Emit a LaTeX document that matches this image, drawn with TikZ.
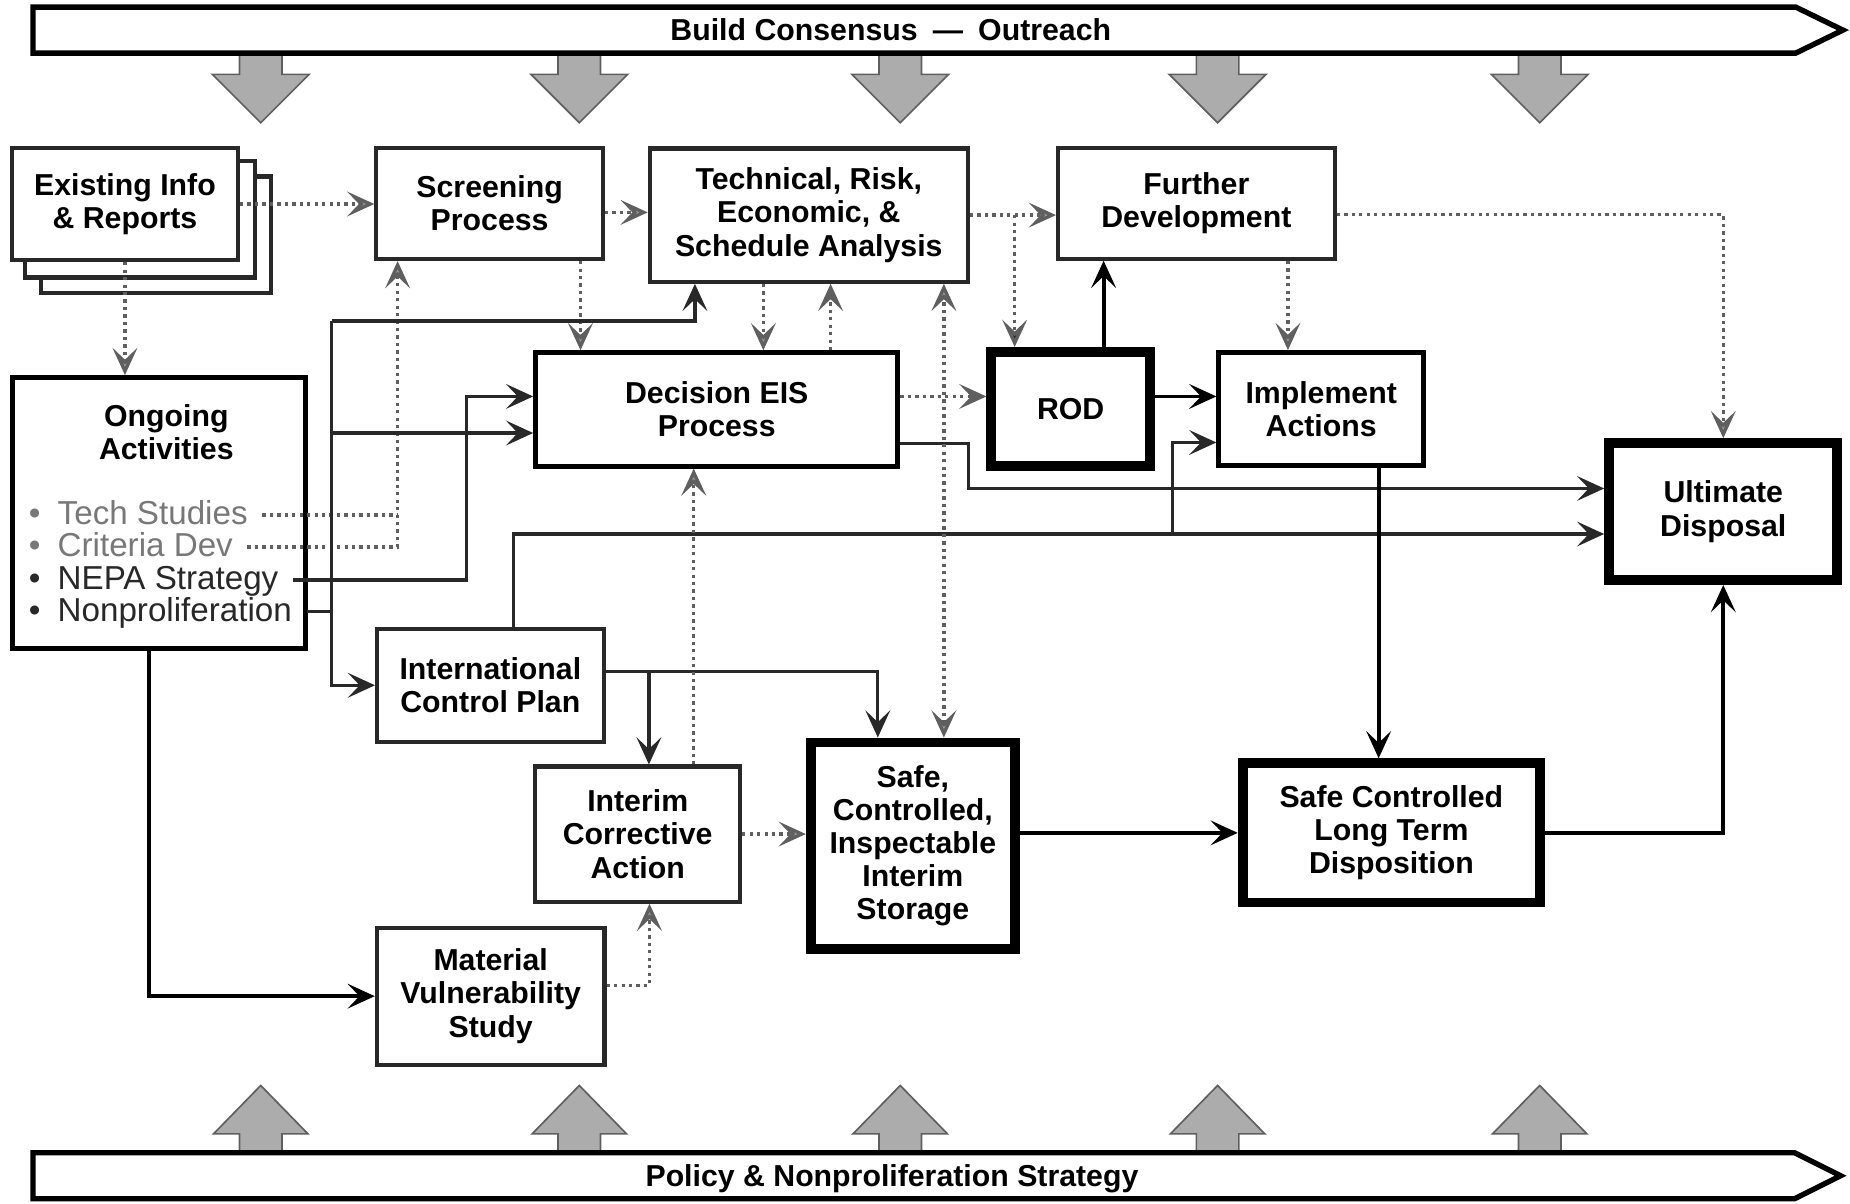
\documentclass[tikz,border=0pt]{standalone}
\usepackage{fontspec}
\setmainfont{Liberation Sans}
\usepackage{tikz}
\usetikzlibrary{arrows.meta, backgrounds}
\definecolor{inkgray}{RGB}{40, 40, 40}
\definecolor{dotgray}{RGB}{95, 95, 95}
\definecolor{shadegray}{RGB}{155, 155, 155}
\definecolor{arrowgray}{RGB}{172, 172, 172}
\definecolor{itemgray}{RGB}{120, 120, 120}
\newcommand{\lblfont}{\fontsize{7.3}{8}\selectfont\bfseries}
\newcommand{\itmfont}{\fontsize{8}{8}\selectfont}

\begin{document}
\begin{tikzpicture}[x=0.1mm, y=-0.1mm,
  blacktip/.tip={Stealth[length=2.3mm, width=2.1mm, inset=1mm]},
  inktip/.tip={Stealth[length=2.3mm, width=2.1mm, inset=1mm, fill=inkgray]},
  graytip/.tip={Stealth[length=2.3mm, width=2.1mm, inset=1mm, fill=shadegray]},
  pbox/.style={draw, line width=1.2pt, fill=white, align=center, font=\lblfont},
  softbox/.style={pbox, draw=inkgray, line width=1pt},
  keybox/.style={pbox, line width=2.4pt},
  itemtxt/.style={anchor=west, font=\itmfont, text height=2mm, text depth=0.4mm},
  solidflow/.style={line width=0.9pt, -{blacktip}},
  inkline/.style={draw=inkgray, line width=0.8pt},
  inkflow/.style={inkline, -{inktip}},
  dotline/.style={draw=dotgray, line width=0.8pt, densely dotted},
  dotflow/.style={dotline, -{graytip}},
  banner/.style={draw, line width=1.3pt, fill=white, line join=miter},
  bigarrow/.style={fill=arrowgray, draw=dotgray, line width=0.4pt}
]
  \useasboundingbox (0,0) rectangle (1568,1020);

  \foreach \x in {221,491,763,1032,1305}{
    \draw[bigarrow] (\x-18,45) -- (\x+18,45) -- (\x+18,63) -- (\x+41,63) -- (\x,104) -- (\x-41,63) -- (\x-18,63) -- cycle;
    \draw[bigarrow] (\x-18,977) -- (\x+18,977) -- (\x+18,961) -- (\x+40,961) -- (\x,920) -- (\x-40,961) -- (\x-18,961) -- cycle;
  }
  \draw[banner] (28,6) -- (1522,6) -- (1562,25.5) -- (1522,45) -- (28,45) -- cycle;
  \node[font=\lblfont] (outreach) at (755,25.5) {Build Consensus\enspace---\enspace Outreach};
  \draw[banner] (28,977) -- (1521,977) -- (1560,996.5) -- (1521,1016) -- (28,1016) -- cycle;
  \node[font=\lblfont] (policy) at (756,999) {Policy \& Nonproliferation Strategy};

  \node[softbox, minimum width=19.15mm, minimum height=9.5mm] (exist) at (105.9,172.9) {Existing Info\\\& Reports};
  \begin{scope}[on background layer]
    \foreach \d in {26,13}
      \draw[draw=inkgray, line width=1pt, fill=white] ([shift={(\d,\d)}]exist.north west) rectangle ([shift={(\d,\d)}]exist.south east);
  \end{scope}
  \node[softbox, minimum width=19.2mm, minimum height=9.4mm] (screen) at (415,172.5) {Screening\\Process};
  \node[softbox, minimum width=26.95mm, minimum height=11.3mm] (tech) at (685.5,182.3) {Technical, Risk,\\Economic, \&\\Schedule Analysis};
  \node[softbox, minimum width=23.45mm, minimum height=9.35mm] (further) at (1014,172.5) {Further\\Development};
  \node[pbox, minimum width=30.7mm, minimum height=9.6mm] (decision) at (607.5,347) {Decision EIS\\Process};
  \node[keybox, minimum width=13.45mm, minimum height=9.65mm] (rod) at (907.5,346.5) {ROD};
  \node[pbox, minimum width=17.35mm, minimum height=9.6mm] (implement) at (1119.8,346.8) {Implement\\Actions};
  \node[keybox, minimum width=19.35mm, minimum height=11.6mm] (ultimate) at (1460.6,433.6) {Ultimate\\Disposal};
  \node[pbox, minimum width=24.85mm, minimum height=23mm] (ongoing) at (134.7,435) {};
  \node[font=\lblfont, align=center] (ongoingtitle) at (141,366) {Ongoing\\Activities};
  \node[itemtxt, text=itemgray] (techst) at (12,436.5) {\makebox[2.45mm][l]{\textbullet}Tech Studies};
  \node[itemtxt, text=itemgray] (critdev) at (12,463.5) {\makebox[2.45mm][l]{\textbullet}Criteria Dev};
  \node[itemtxt, text=inkgray] (nepa) at (12,491.6) {\makebox[2.45mm][l]{\textbullet}NEPA Strategy};
  \node[itemtxt, text=inkgray] (nonprolif) at (12,518.5) {\makebox[2.45mm][l]{\textbullet}Nonproliferation};
  \node[softbox, minimum width=19.2mm, minimum height=9.6mm] (intl) at (415.6,580.8) {International\\Control Plan};
  \node[softbox, minimum width=17.35mm, minimum height=11.45mm] (interim) at (540.5,706.9) {Interim\\Corrective\\Action};
  \node[softbox, minimum width=19.3mm, minimum height=11.6mm] (material) at (415.9,844.3) {Material\\Vulnerability\\Study};
  \node[keybox, minimum width=17.3mm, minimum height=17.5mm] (storage) at (773.7,716.8) {Safe,\\Controlled,\\Inspectable\\Interim\\Storage};
  \node[keybox, minimum width=25.2mm, minimum height=11.8mm] (longterm) at (1179.3,705.9) {Safe Controlled\\Long Term\\Disposition};

  \coordinate (rodfork) at (860,182.3);
  \coordinate (implfork) at (994,452.6);
  \coordinate (interimfork) at (550,569.3);
  \coordinate (critcol) at ([xshift=-7.8mm]screen.south);
  \coordinate (bus) at (281,272);

  \draw[dotflow] (exist.east) -- (exist.east -| screen.west);
  \draw[dotflow] (exist.south) -- (exist.south |- ongoing.north);
  \draw[dotflow] ([yshift=-0.75mm]screen.east) -- ([yshift=-0.75mm]screen.east -| tech.west);
  \draw[dotflow] ([xshift=7.7mm]screen.south) -- ([xshift=7.7mm]screen.south |- decision.north);
  \draw[dotflow] (tech.east) -- (tech.east -| further.west);
  \draw[dotline, -{inktip}] (rodfork) -- (rodfork |- rod.north);
  \draw[dotflow] ([xshift=-3.85mm]tech.south) -- ([xshift=-3.85mm]tech.south |- decision.north);
  \draw[dotline, -{blacktip}] ([xshift=9.65mm]decision.north) -- ([xshift=9.65mm]decision.north |- tech.south);
  \draw[dotline, -{blacktip}] ([yshift=1.1mm]decision.east) -- ([yshift=1.1mm]decision.east -| rod.west);
  \draw[solidflow] ([xshift=2.79mm]rod.north) -- ([xshift=2.79mm]rod.north |- further.south);
  \draw[solidflow] ([yshift=1.05mm]rod.east) -- ([yshift=1.05mm]rod.east -| implement.west);
  \draw[dotflow] ([xshift=7.76mm]further.south) -- ([xshift=7.76mm]further.south |- implement.north);
  \draw[dotflow] ([yshift=-0.95mm]further.east) -| (ultimate.north);
  \draw[inkflow] ([yshift=-2.87mm]decision.east) -- ++(58,0) |- ([yshift=1.96mm]ultimate.west);
  \draw[inkflow] ([xshift=1.94mm]intl.north) |- ([yshift=-1.9mm]ultimate.west);
  \draw[inkflow] (implfork) |- ([yshift=-2.82mm]implement.west);
  \draw[dotline, {graytip}-{graytip}] ([xshift=2.63mm]storage.north) -- ([xshift=2.63mm]storage.north |- tech.south);
  \draw[solidflow] ([xshift=4.87mm]implement.south) -- ([xshift=4.87mm]implement.south |- longterm.north);
  \draw[solidflow] (storage.east |- longterm.west) -- (longterm.west);
  \draw[solidflow] (longterm.east) -| (ultimate.south);
  \draw[inkflow] ([yshift=1.15mm]intl.east) -| ([xshift=-2.97mm]storage.north);
  \draw[inkflow] (interimfork) -- (interimfork |- interim.north);
  \draw[dotflow] ([xshift=4.75mm]interim.north) -- ([xshift=4.75mm]interim.north |- decision.south);
  \draw[dotflow] (interim.east) -- (interim.east -| storage.west);
  \draw[dotflow] ([yshift=0.93mm]material.east) -| ([xshift=1mm]interim.south);
  \draw[solidflow] ([xshift=-0.84mm]ongoing.south) |- (material.west);

  \draw[dotline] (techst.east) -- (techst.east -| critcol);
  \draw[dotflow] (critdev.east) -| (critcol);
  \draw[inkflow] (nepa.east) -| ([xshift=-5.65mm, yshift=1.1mm]decision.west) -- ([yshift=1.1mm]decision.west);
  \draw[inkline] (nonprolif.east) -- (nonprolif.east -| bus);
  \draw[inkflow] (bus) -| ([xshift=-9.65mm]tech.south);
  \draw[inkflow] (bus) |- (intl.west);
  \draw[inkflow] ([yshift=-2mm]decision.west -| bus) -- ([yshift=-2mm]decision.west);
\end{tikzpicture}
\end{document}
